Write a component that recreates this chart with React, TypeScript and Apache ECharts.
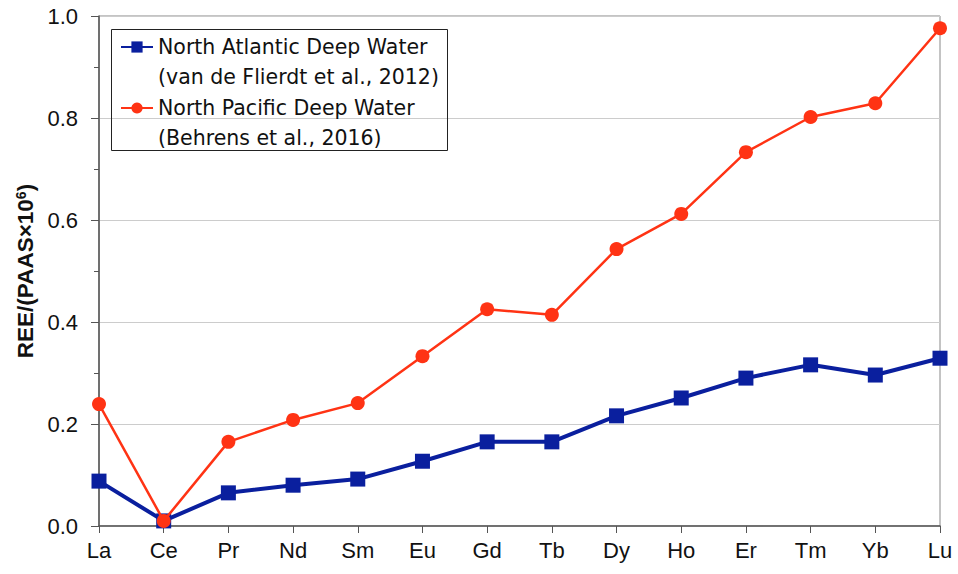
import React, { useEffect, useRef } from "react";
import * as echarts from "echarts";

const elements = ["La", "Ce", "Pr", "Nd", "Sm", "Eu", "Gd", "Tb", "Dy", "Ho", "Er", "Tm", "Yb", "Lu"];
const nadwValues = [0.088, 0.01, 0.065, 0.08, 0.092, 0.127, 0.165, 0.165, 0.216, 0.251, 0.29, 0.316, 0.296, 0.329];
const npdwValues = [0.239, 0.01, 0.165, 0.208, 0.241, 0.333, 0.425, 0.414, 0.543, 0.612, 0.733, 0.802, 0.829, 0.976];
const nadwName = "North Atlantic Deep Water\n(van de Flierdt et al., 2012)";
const npdwName = "North Pacific Deep Water\n(Behrens et al., 2016)";

const FONT = "'Liberation Sans', Arial, Helvetica, sans-serif";
const LEGEND_FONT = "'DejaVu Sans', 'Liberation Sans', sans-serif";
const BLUE = "#0A1F9E";
const RED = "#FF3314";

export default function App() {
  const ref = useRef<HTMLDivElement>(null);

  useEffect(() => {
    if (!ref.current) return;
    const chart = echarts.init(ref.current, undefined, { renderer: "svg" });
    chart.setOption({
      animation: false,
      backgroundColor: "#ffffff",
      textStyle: { fontFamily: FONT },
      grid: {
        left: 99,
        right: 18,
        top: 16,
        bottom: 48,
        show: true,
        borderColor: "#888888",
        borderWidth: 1,
      },
      legend: {
        left: 111,
        top: 2,
        orient: "vertical",
        padding: [0, 0, 0, 9],
        itemWidth: 32,
        itemHeight: 14,
        itemGap: -29,
        selectedMode: false,
        data: [nadwName, npdwName],
        // leading blank line keeps the icon beside the first line of each entry
        formatter: (name: string) => "\n" + name,
        textStyle: {
          fontFamily: LEGEND_FONT,
          fontSize: 20.5,
          color: "#111111",
          lineHeight: 30,
        },
      },
      graphic: [
        {
          type: "rect",
          shape: { x: 111.5, y: 29.5, width: 336, height: 121 },
          style: { fill: "none", stroke: "#222222", lineWidth: 1 },
          z: 100,
        },
      ],
      xAxis: {
        type: "category",
        data: elements,
        boundaryGap: false,
        axisLine: { lineStyle: { color: "#555555", width: 1.5 } },
        axisTick: { show: true, length: 7, lineStyle: { color: "#555555" } },
        axisLabel: { fontSize: 22, color: "#111111", margin: 13, fontFamily: FONT },
        splitLine: { show: false },
      },
      yAxis: {
        type: "value",
        min: 0,
        max: 1,
        interval: 0.2,
        name: "REE/(PAAS×10{sup|6})",
        nameLocation: "middle",
        nameGap: 60,
        nameTextStyle: {
          fontFamily: FONT,
          fontSize: 22.5,
          fontWeight: "bold",
          color: "#111111",
          rich: {
            sup: {
              fontFamily: FONT,
              fontSize: 14,
              fontWeight: "bold",
              color: "#111111",
              verticalAlign: "bottom",
              padding: [0, 0, 9, 0],
            },
          },
        },
        axisLine: { show: true, lineStyle: { color: "#555555", width: 1.5 } },
        axisTick: { show: true, length: 8, lineStyle: { color: "#555555" } },
        minorTick: { show: true, splitNumber: 2, length: 5, lineStyle: { color: "#555555" } },
        axisLabel: {
          fontSize: 22,
          color: "#111111",
          margin: 21,
          fontFamily: FONT,
          formatter: (v: number) => v.toFixed(1),
        },
        splitLine: { show: true, lineStyle: { color: "#CCCCCC", width: 1 } },
      },
      series: [
        {
          name: nadwName,
          type: "line",
          data: nadwValues,
          symbol: "rect",
          symbolSize: 15,
          color: BLUE,
          lineStyle: { color: BLUE, width: 4 },
          itemStyle: { color: BLUE },
          z: 2,
        },
        {
          name: npdwName,
          type: "line",
          data: npdwValues,
          symbol: "circle",
          symbolSize: 14,
          color: RED,
          lineStyle: { color: RED, width: 2.5 },
          itemStyle: { color: RED },
          z: 3,
        },
      ],
    });
    return () => chart.dispose();
  }, []);

  return <div ref={ref} style={{ width: 958, height: 574, position: "absolute", left: 0, top: 0 }} />;
}
